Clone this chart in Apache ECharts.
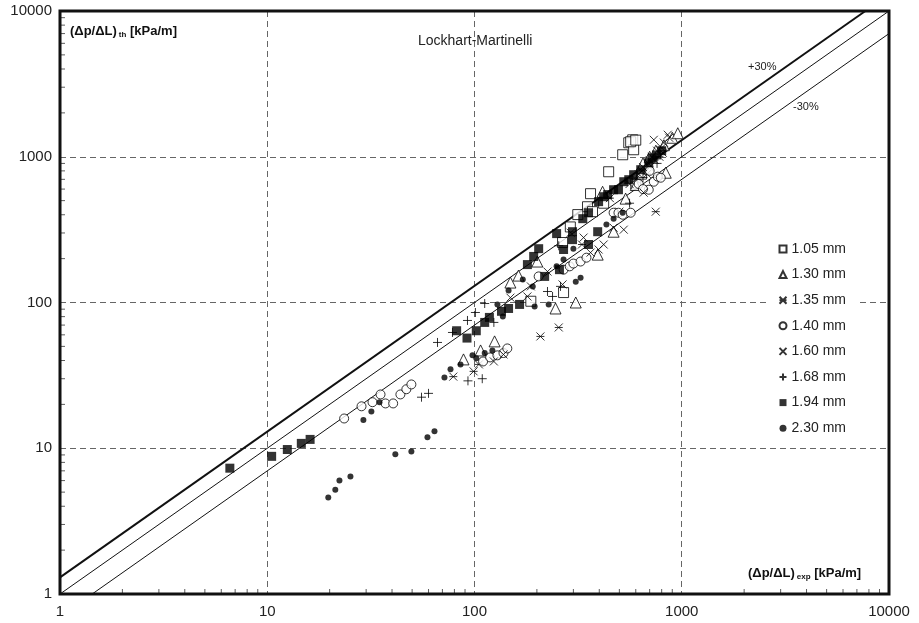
<!doctype html>
<html>
<head>
<meta charset="utf-8">
<script src="https://cdn.jsdelivr.net/npm/echarts@6/dist/echarts.min.js"></script>
<style>
    body { margin: 0; background: #fff; }
    #chart { width: 919px; height: 623px; }
</style>
</head>
<body>
<div id="chart"></div>
<script>
// axis ticks (decades) and minor tick multipliers
var decades = [1, 10, 100, 1000, 10000];
var minorMult = [2, 3, 4, 5, 6, 7, 8, 9];

// measured points [dp/dL exp, dp/dL th] in kPa/m
var d105 = [[580,1307],[555,1247],[586,1117],[567,1268],[600,1300],[519,1032],[444,789],[363,558],[351,454],[315,401],[371,420],[266,258],[269,117],[187,102],[290,330],[420,480],[600,650],[640,760]];
var d130 = [[88.5,40.7],[107,46.9],[125,54.1],[149,137],[163,153],[201,191],[246,91],[308,100],[393,213],[415,575],[469,306],[536,516],[650,900],[700,1000],[837,777],[820,1200],[900,1350],[957,1450],[750,1100],[600,640]];
var d135 = [[79,31],[99,33.7],[105,37.6],[208,58.5],[255,67.4],[749,420],[450,520],[600,700],[700,850],[780,1000],[330,250],[500,420],[640,800],[740,950],[800,1150],[680,760]];
var d140 = [[23.5,16.0],[28.5,19.4],[32.2,20.7],[35.2,23.4],[37.2,20.3],[40.5,20.3],[43.9,23.4],[46.9,25.4],[49.6,27.4],[110,39.4],[119,42],[129,43.4],[138,45],[144,48.4],[204,151],[269,168],[288,177],[300,185],[325,191],[347,203],[469,413],[495,413],[519,400],[567,413],[693,594],[733,674],[766,730],[792,718],[620,650],[700,800],[650,600]];
var d160 = [[124,39.4],[138,44],[149,108],[180,110],[187,129],[225,163],[266,133],[291,301],[336,279],[363,220],[397,231],[420,250],[469,326],[525,316],[655,567],[733,1307],[856,1416],[810,1065],[690,900],[620,760],[560,650],[700,950],[760,1100],[820,1250],[870,1350],[650,850],[720,1000]];
var d168 = [[55.5,22.4],[60,23.8],[66.3,53.2],[78.3,62.3],[92.5,75.3],[101,85.4],[112,98.4],[124,73],[93,29],[109,30],[225,119],[238,110],[260,129],[255,245],[560,480],[650,720],[760,900]];
var d194 = [[6.6,7.3],[10.5,8.8],[12.5,9.8],[14.6,10.8],[16.1,11.5],[82,64],[92,57],[102,64],[112,73],[118,79],[135,87],[146,91],[165,97],[180,182],[193,207],[204,234],[218,151],[249,297],[257,168],[269,231],[297,306],[297,270],[333,376],[355,413],[355,250],[393,306],[397,492],[420,532],[439,550],[469,594],[495,594],[525,674],[555,696],[586,753],[634,815],[693,910],[756,1030],[720,980],[800,1100]];
var d230 = [[19.7,4.6],[21.3,5.2],[22.3,6.0],[25.2,6.4],[41.5,9.1],[49.6,9.5],[59.3,11.9],[64.1,13.1],[29.1,15.6],[31.8,17.9],[34.8,20.7],[71.6,30.6],[76.6,34.8],[85.6,37.6],[97.8,43.4],[102,41.4],[112,45],[122,46.9],[129,97],[137,80],[146,121],[171,144],[191,129],[195,94],[228,97],[249,177],[269,197],[300,234],[308,139],[325,148],[433,343],[469,376],[519,413]];

// reference lines: +30 %, 1:1, -30 %
var linePlus = [[1, 1.3], [7692, 10000]];
var lineEq = [[1, 1], [10000, 10000]];
var lineMinus = [[1.43, 1], [10000, 7000]];

var FONT = '"Liberation Sans", Arial, sans-serif';

// minor tick positions along bottom and left axes
var minorX = [], minorY = [];
for (var i = 0; i < 4; i++) {
    minorMult.forEach(function (m) {
        minorX.push([m * decades[i], 1]);
        minorY.push([1, m * decades[i]]);
    });
}

var open = { color: '#fff', borderColor: '#000', borderWidth: 1 };
var stroke = { color: 'none', borderColor: '#000', borderWidth: 1 };
var filled = { color: '#000' };

function pts(name, data, symbol, size, style) {
    return { name: name, type: 'scatter', data: data, symbol: symbol, symbolSize: size, itemStyle: style, z: 5 };
}
function refLine(data, w) {
    return { type: 'line', data: data, symbol: 'none', silent: true, z: 3,
        lineStyle: { color: '#111', width: w } };
}
function tickSeries(data, size, off) {
    return { type: 'scatter', data: data, symbol: 'rect', symbolSize: size, symbolOffset: off,
        itemStyle: { color: '#333' }, silent: true, clip: false, z: 6 };
}

var chart = echarts.init(document.getElementById('chart'));
chart.setOption({
    animation: false,
    textStyle: { fontFamily: FONT },
    grid: { left: 60, top: 11, right: 30, bottom: 29, show: true, borderColor: '#111', borderWidth: 3, z: 10 },
    xAxis: {
        type: 'log', logBase: 10, min: 1, max: 10000, interval: 1,
        axisLine: { show: false }, axisTick: { show: false },
        axisLabel: { fontSize: 15, color: '#222', margin: 10, formatter: function (v) { return String(Math.round(v)); } },
        splitLine: { show: true, lineStyle: { color: '#666', type: [6, 4], width: 1 } }
    },
    yAxis: {
        type: 'log', logBase: 10, min: 1, max: 10000, interval: 1,
        axisLine: { show: false }, axisTick: { show: false },
        axisLabel: { fontSize: 15, color: '#222', margin: 8, formatter: function (v) { return String(Math.round(v)); } },
        splitLine: { show: true, lineStyle: { color: '#666', type: [6, 4], width: 1 } }
    },
    legend: {
        orient: 'vertical', left: 767, top: 236,
        padding: [6, 12, 6, 10], backgroundColor: '#fff',
        itemWidth: 7, itemHeight: 7, itemGap: 11.6,
        textStyle: { fontSize: 14, color: '#222', fontFamily: FONT },
        data: ['1.05 mm', '1.30 mm', '1.35 mm', '1.40 mm', '1.60 mm', '1.68 mm', '1.94 mm', '2.30 mm'],
        z: 8
    },
    series: [
        refLine(linePlus, 2),
        refLine(lineEq, 1),
        refLine(lineMinus, 1),
        pts('1.05 mm', d105, 'rect', 10, open),
        pts('1.30 mm', d130, 'triangle', 11, open),
        pts('1.35 mm', d135, 'path://M0,0L10,10M10,0L0,10M0,5L10,5', 8, stroke),
        pts('1.40 mm', d140, 'circle', 9, open),
        pts('1.60 mm', d160, 'path://M0,0L10,10M10,0L0,10', 8, stroke),
        pts('1.68 mm', d168, 'path://M5,0L5,10M0,5L10,5', 9, stroke),
        pts('1.94 mm', d194, 'rect', 9, filled),
        pts('2.30 mm', d230, 'circle', 6, filled),
        tickSeries(minorX, [1, 5], [0, -2.5]),
        tickSeries(minorY, [5, 1], [2.5, 0])
    ],
    graphic: [
        { type: 'text', left: 418, top: 34, style: { text: 'Lockhart-Martinelli', font: '14px ' + FONT, fill: '#222' } },
        { type: 'text', left: 748, top: 61, style: { text: '+30%', font: '11px ' + FONT, fill: '#222' } },
        { type: 'text', left: 793, top: 101, style: { text: '-30%', font: '11px ' + FONT, fill: '#222' } },
        { type: 'text', left: 70, top: 25, z: 20, style: {
            text: '{b|(Δp/ΔL)}{s|th}{b| [kPa/m]}',
            rich: { b: { font: 'bold 13px ' + FONT, fill: '#111' },
                    s: { font: 'bold 8px ' + FONT, fill: '#111', padding: [6, 0, 0, 2] } } } },
        { type: 'text', left: 748, top: 567, z: 20, style: {
            text: '{b|(Δp/ΔL)}{s|exp}{b| [kPa/m]}',
            rich: { b: { font: 'bold 13px ' + FONT, fill: '#111' },
                    s: { font: 'bold 8px ' + FONT, fill: '#111', padding: [6, 0, 0, 2] } } } }
    ]
});
</script>
</body>
</html>
